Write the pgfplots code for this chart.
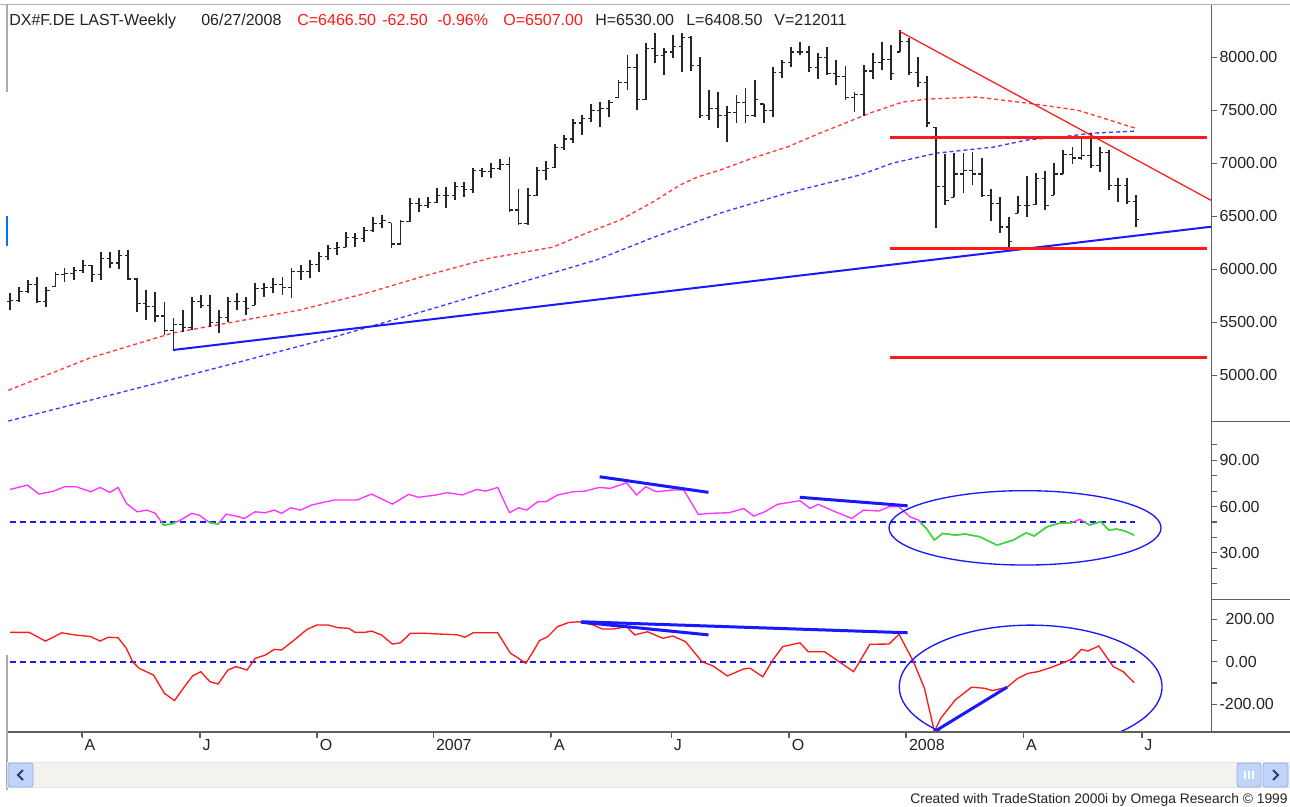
\documentclass[border=0pt]{standalone}
\usepackage{pgfplots}
\pgfplotsset{compat=1.18}
\usepackage{pgfplotstable}
\usepackage{fontspec}
\setmainfont{Liberation Sans}

\definecolor{mag}{RGB}{255,50,255}
\definecolor{lime}{RGB}{40,230,40}
\definecolor{tsred}{RGB}{255,25,25}
\definecolor{tsblue}{RGB}{25,25,255}
\definecolor{axgray}{RGB}{95,95,95}
\definecolor{txt}{RGB}{35,35,35}
\definecolor{scrollbg}{RGB}{243,242,236}
\definecolor{btnblue}{RGB}{192,212,250}
\definecolor{btnedge}{RGB}{150,175,230}
\definecolor{btndark}{RGB}{40,60,120}

\newcommand{\tfont}{\fontsize{9.6pt}{11pt}\selectfont}

\pgfdeclareplotmark{otick}{%
  \pgfpathmoveto{\pgfqpoint{-\pgfplotmarksize}{0pt}}%
  \pgfpathlineto{\pgfqpoint{0pt}{0pt}}%
  \pgfusepathqstroke}
\pgfdeclareplotmark{ctick}{%
  \pgfpathmoveto{\pgfqpoint{0pt}{0pt}}%
  \pgfpathlineto{\pgfqpoint{\pgfplotmarksize}{0pt}}%
  \pgfusepathqstroke}

\pgfplotsset{
  panel/.style={
    scale only axis, width=722.22pt,
    xmin=-99.23, xmax=33.34,
    axis y line*=right,
    axis line style={draw=none},
    tick align=outside,
    major tick length=3.3pt, minor tick length=3.3pt,
    tick style={axgray, line width=0.7pt},
    yticklabel style={font=\tfont, text=txt, anchor=west, inner sep=0pt, xshift=1.2pt},
  },
}

\pgfplotstableread{
t H L O C
-99 5780 5620 5700 5710
-98 5830 5690 5710 5790
-97 5900 5780 5790 5860
-96 5930 5680 5860 5700
-95 5830 5650 5700 5800
-94 5980 5830 5840 5950
-93 6010 5880 5950 5960
-92 6020 5900 5960 5990
-91 6090 5970 5990 6040
-90 6040 5880 6040 5950
-89 6160 5900 5950 6100
-88 6160 6010 6100 6060
-87 6180 6000 6060 6130
-86 6180 5900 6130 5910
-85 5920 5600 5910 5680
-84 5810 5520 5680 5650
-83 5790 5500 5650 5560
-82 5690 5380 5560 5420
-81 5540 5240 5420 5480
-80 5620 5410 5480 5450
-79 5740 5430 5450 5700
-78 5760 5640 5700 5660
-77 5760 5460 5660 5500
-76 5620 5400 5500 5550
-75 5740 5500 5550 5700
-74 5780 5620 5700 5700
-73 5740 5570 5700 5630
-72 5870 5660 5660 5820
-71 5870 5740 5820 5830
-70 5920 5780 5830 5860
-69 5930 5760 5860 5830
-68 6010 5730 5830 5980
-67 6040 5900 5980 5980
-66 6090 5920 5980 6050
-65 6160 5980 6050 6120
-64 6230 6090 6120 6200
-63 6260 6140 6200 6210
-62 6350 6210 6210 6300
-61 6340 6210 6300 6290
-60 6400 6260 6290 6370
-59 6490 6350 6370 6430
-58 6510 6390 6430 6460
-57 6440 6200 6440 6240
-56 6470 6230 6240 6450
-55 6670 6450 6450 6620
-54 6670 6540 6620 6600
-53 6680 6580 6600 6630
-52 6770 6630 6630 6700
-51 6780 6580 6700 6700
-50 6820 6650 6700 6780
-49 6820 6680 6780 6750
-48 6960 6720 6750 6930
-47 6960 6870 6930 6920
-46 7000 6860 6920 6950
-45 7040 6940 6950 6990
-44 7060 6540 6990 6560
-43 6760 6420 6560 6430
-42 6770 6420 6430 6700
-41 6970 6690 6700 6930
-40 7020 6840 6930 6950
-39 7180 6960 6960 7150
-38 7270 7130 7150 7230
-37 7420 7190 7230 7380
-36 7460 7270 7380 7420
-35 7560 7390 7420 7500
-34 7580 7340 7500 7520
-33 7600 7440 7520 7570
-32 7790 7620 7620 7760
-31 8020 7690 7760 7900
-30 8030 7500 7900 7600
-29 8130 7600 7600 8080
-28 8230 7950 8080 8020
-27 8090 7830 8020 8050
-26 8210 7990 8050 8100
-25 8230 7860 8100 8190
-24 8200 7870 8190 7920
-23 8000 7430 7920 7450
-22 7690 7410 7450 7520
-21 7670 7330 7520 7450
-20 7540 7200 7450 7480
-19 7640 7380 7480 7570
-18 7710 7380 7570 7450
-17 7790 7440 7450 7600
-16 7560 7380 7560 7500
-15 7910 7440 7500 7860
-14 7970 7800 7860 7950
-13 8100 7910 7950 8050
-12 8140 8020 8050 8050
-11 8110 7860 8050 7900
-10 8040 7800 7900 8000
-9 8100 7830 8000 7850
-8 7970 7740 7850 7820
-7 7920 7600 7820 7620
-6 7670 7480 7620 7650
-5 7930 7450 7650 7870
-4 8040 7800 7870 7950
-3 8140 7880 7950 7980
-2 8120 7790 7980 7850
-1 8260 8050 8050 8150
0 8180 7830 8150 7860
1 8000 7720 7860 7760
2 7820 7340 7760 7380
3 7340 6390 7340 6780
4 7090 6610 6780 6650
5 7100 6680 6680 6900
6 7100 6720 6900 6930
7 7110 6800 6930 6900
8 7050 6680 6900 6700
9 6760 6460 6700 6620
10 6680 6340 6620 6400
11 6490 6200 6400 6260
12 6690 6530 6530 6600
13 6880 6490 6600 6600
14 6910 6610 6610 6860
15 6930 6560 6860 6600
16 7000 6700 6700 6900
17 7130 6900 6900 7080
18 7150 6990 7080 7050
19 7240 7030 7050 7070
20 7290 6960 7070 6980
21 7150 6920 6980 7100
22 7130 6750 7100 6790
23 6860 6640 6790 6790
24 6860 6620 6790 6640
25 6700 6400 6640 6470
}\bars

\pgfplotstableread{
t v
-99.0 71.1
-97.1 73.9
-95.8 68.1
-94.2 70
-93.0 72.8
-91.7 72.8
-90.1 69.6
-89.1 72.4
-88.0 69.2
-87.1 72.4
-86.2 62.1
-85.0 56.6
-83.9 57.7
-83.0 55.6
-82.1 48
-81.2 48.7
-80.2 51.3
-79.0 55.6
-78.2 54.5
-77.0 49.5
-76.1 48.7
-75.2 55.1
-74.1 53.8
-73.2 52.3
-72.0 56.6
-70.9 56
-69.9 57.7
-69.1 55.6
-68.1 59.2
-67.0 57.7
-65.8 61
-64.5 62.7
-63.3 64.2
-60.8 64.2
-59.2 68.1
-56.9 61.6
-55.1 67.9
-54.0 66
-52.1 67.5
-50.8 69
-49.2 67.5
-47.6 71.1
-46.6 70
-45.3 72.4
-44.0 56
-43.0 59.2
-42.1 57.7
-40.9 63.1
-40.0 63.1
-38.7 67.5
-37.0 69.6
-35.7 70
-34.1 72.4
-32.9 71.8
-31.1 75.4
-30.0 67.5
-29.0 72.8
-27.8 69.6
-26.0 70.7
-24.8 70.7
-23.2 54.9
-21.9 55.6
-19.8 56
-18.2 58.8
-17.1 53.8
-15.9 56.6
-14.5 61.4
-12.0 63.8
-10.9 58.8
-10.0 61.4
-8.1 56.6
-6.3 52.3
-5.0 57.7
-3.3 57.1
-2.2 59.9
-1.1 59.9
0.1 53.4
1.0 51.3
1.9 45.9
2.8 38.3
3.7 42.6
5.1 41.5
6.2 42.2
7.8 40.4
9.7 35
11.5 38.3
12.9 43
13.8 40.9
15.2 46.9
16.5 49.1
17.9 49.5
18.8 51.7
19.9 48
21.1 50.2
22.0 44.8
22.9 45.4
23.8 44.1
24.8 41.5
}\rsi

\pgfplotstableread{
t v
-99.0 138
-96.9 138
-95.1 97
-93.3 136
-91.9 126
-90.1 118
-89.1 97
-88.2 115
-87.1 113
-86.2 63
-85.5 0
-84.8 -31
-83.2 -63
-82.0 -149
-80.9 -183
-79.8 -118
-78.9 -67
-78.0 -47
-77.0 -94
-76.1 -105
-75.0 -39
-74.1 -23
-72.9 -39
-72.0 16
-70.9 31
-69.9 58
-69.1 55
-67.7 102
-66.3 152
-65.2 173
-64.0 173
-62.9 160
-61.7 157
-61.0 138
-59.9 138
-59.2 144
-58.1 126
-56.9 83
-56.0 89
-54.9 134
-53.5 134
-51.7 130
-49.8 127
-48.9 115
-48.0 136
-46.6 136
-45.3 136
-43.9 40
-43.0 16
-42.2 -8
-41.4 47
-40.7 99
-39.8 118
-38.7 165
-37.5 184
-36.4 188
-34.8 173
-33.8 154
-32.5 154
-31.1 165
-30.2 126
-28.8 141
-27.1 110
-26.0 121
-24.6 94
-22.8 0
-21.6 -20
-20.0 -67
-18.2 -34
-17.5 -31
-16.1 -71
-15.0 8
-13.9 71
-12.0 89
-11.1 47
-9.3 47
-7.7 0
-6.1 -47
-4.3 82
-2.2 83
-1.1 129
0.5 0
1.7 -125
2.8 -329
3.5 -266
5.1 -180
6.9 -120
8.3 -125
9.2 -136
10.8 -120
12.0 -78
13.1 -55
14.2 -47
15.6 -28
16.8 -8
17.9 11
19.0 58
19.7 50
20.9 74
22.5 -23
23.6 -47
24.8 -99
}\cci

\begin{document}
\begin{tikzpicture}
\useasboundingbox (0,0) rectangle (774pt,484.2pt);
\fill[white] (0,0) rectangle (774pt,484.2pt);

% ---------------- price panel ----------------
\begin{axis}[panel, axis x line=none, xtick=\empty,
  at={(4.8pt,231.18pt)}, anchor=south west, height=250.02pt,
  ymin=4564, ymax=8493,
  ytick={5000,5500,6000,6500,7000,7500,8000},
  yticklabels={5000.00,5500.00,6000.00,6500.00,7000.00,7500.00,8000.00}]
\addplot[tsred!85, line width=0.8pt, dash pattern=on 2.4pt off 1.8pt] coordinates {
(-99.2,4860) (-90.2,5165) (-81.1,5400) (-74.4,5504) (-67.1,5617) (-59.7,5777)
(-53.0,5947) (-46.1,6107) (-39.2,6210) (-35.5,6343) (-31.8,6466) (-28.2,6636)
(-25.2,6796) (-23.3,6871) (-20.8,6937) (-17.2,7050) (-13.4,7154) (-9.8,7285)
(-6.2,7408) (-4.3,7474) (-0.7,7578) (2.0,7606) (7.5,7625) (13.0,7568)
(18.5,7503) (22.1,7408) (24.9,7332)};
\addplot[tsblue!85, line width=0.8pt, dash pattern=on 2.4pt off 1.8pt] coordinates {
(-99.2,4570) (-89.1,4790) (-78.1,5030) (-72.9,5146) (-63.4,5360) (-53.0,5617)
(-34.4,6090) (-28.2,6300) (-20.8,6531) (-13.4,6720) (-5.4,6890) (-1.8,7002)
(3.1,7097) (9.3,7153) (13.0,7220) (16.6,7248) (20.3,7285) (24.9,7304)};
\addplot[draw=none, mark=none,
  error bars/.cd, y dir=both, y explicit, error mark=none,
  error bar style={draw=black!85, line width=1.1pt, solid}]
  table[x=t, y expr={(\thisrow{H}+\thisrow{L})/2}, y error expr={(\thisrow{H}-\thisrow{L})/2}] {\bars};
\addplot[black!85, only marks, mark=otick, mark size=2pt, mark options={line width=0.7pt}] table[x=t,y=O] {\bars};
\addplot[black!85, only marks, mark=ctick, mark size=2pt, mark options={line width=0.7pt}] table[x=t,y=C] {\bars};
\addplot[tsblue, line width=1.2pt] coordinates {(-81.06,5240) (33.34,6403)};
\addplot[tsred, line width=0.75pt] coordinates {(-1.1,8248) (33.34,6648)};
\addplot[tsred, line width=1.8pt] coordinates {(-2.1,7247) (32.8,7247)};
\addplot[tsred, line width=1.8pt] coordinates {(-2.1,6199) (32.8,6199)};
\addplot[tsred, line width=1.8pt] coordinates {(-2.1,5167) (32.8,5167)};
\end{axis}

% ---------------- RSI panel ----------------
\begin{axis}[panel, axis x line=none, xtick=\empty,
  at={(4.8pt,124.62pt)}, anchor=south west, height=106.56pt,
  ymin=-0.1, ymax=115, ytick={30,60,90}, yticklabels={30.00,60.00,90.00},
  minor ytick={10,20,40,50,70,80,100}]
\addplot[tsblue, line width=1.05pt, dash pattern=on 3.6pt off 2.4pt] coordinates {(-99,50) (24.9,50)};
\addplot[mag, line width=0.8pt] table[x=t,y=v] {\rsi};
\addplot[lime, line width=0.9pt] coordinates {(-82.3,50) (-82.1,48) (-81.2,48.7) (-80.7,50)};
\addplot[lime, line width=0.9pt] coordinates {(-77.1,50) (-77.0,49.5) (-76.1,48.7) (-75.9,50)};
\addplot[lime, line width=0.9pt] coordinates {(1.2,50) (1.9,45.9) (2.8,38.3) (3.7,42.6) (5.1,41.5) (6.2,42.2) (7.8,40.4) (9.7,35) (11.5,38.3) (12.9,43) (13.8,40.9) (15.2,46.9) (16.5,49.1) (17.9,49.5) (18.1,50)};
\addplot[lime, line width=0.9pt] coordinates {(19.3,50) (19.9,48) (21.1,50.2) (22.0,44.8) (22.9,45.4) (23.8,44.1) (24.8,41.5)};
\addplot[tsblue, line width=1.8pt] coordinates {(-34.07,79.3) (-22.08,69.2)};
\addplot[tsblue, line width=1.8pt] coordinates {(-12.03,66) (-0.15,60.5)};
\draw[tsblue, line width=0.8pt] (axis cs:12.78,46.2) ellipse [x radius=14.98, y radius=24.1];
\end{axis}

% ---------------- CCI panel ----------------
\begin{axis}[panel, axis x line*=bottom,
  at={(4.8pt,45.18pt)}, anchor=south west, height=79.44pt,
  ymin=-329.4, ymax=293.6, ytick={-200,0,200},
  yticklabels={-200.00,\hspace{3.6pt}0.00,\hspace{3.6pt}200.00},
  minor ytick={-100,100},
  xtick={-91.1,-78.1,-65.2,-52.4,-39.4,-26.2,-13.2,-0.3,12.6,25.6},
  xticklabels={A,J,O,2007,A,J,O,2008,A,J},
  xticklabel style={font=\tfont, text=txt, anchor=north west, inner sep=0pt, xshift=1.5pt, yshift=-1pt}]
\addplot[tsblue, line width=1.2pt, dash pattern=on 3.6pt off 2.4pt] coordinates {(-99,0) (24.9,0)};
\addplot[tsred, line width=0.8pt] table[x=t,y=v] {\cci};
\addplot[tsblue, line width=1.8pt] coordinates {(-36.12,188) (-0.15,136)};
\addplot[tsblue, line width=1.8pt] coordinates {(-36.12,186) (-22.08,126)};
\addplot[tsblue, line width=1.8pt] coordinates {(2.8,-329) (10.8,-120)};
\draw[tsblue, line width=0.8pt] (axis cs:13.4,-118) ellipse [x radius=14.47, y radius=290];
\end{axis}

% ---------------- frame, header, scrollbar, footer (pixel coords) ----------------
\begin{scope}[x=0.6pt, y=-0.6pt, yshift=484.2pt]
\draw[gray!60, line width=0.9pt] (0,4.5) -- (1290,4.5);
\draw[axgray, line width=0.9pt] (1211.7,5) -- (1211.7,732);
\draw[axgray, line width=0.9pt] (1211.7,421.7) -- (1290,421.7);
\draw[axgray, line width=0.9pt] (1211.7,599.3) -- (1290,599.3);
\draw[axgray, line width=0.9pt] (7,732) -- (1290,732);
\foreach \tx in {82.3,200,317,433.3,550.6,671.7,789,906,1023.5,1142} {\draw[axgray, line width=0.8pt] (\tx,732) -- (\tx,738);}
\draw[gray!65, line width=1.5pt] (7,5) -- (7,92);
\draw[blue!55!cyan, line width=1.5pt] (7,216) -- (7,246);
\draw[gray!65, line width=0.9pt] (7,655) -- (7,790);
% scrollbar
\fill[scrollbg] (7,762) rectangle (1290,787);
\draw[gray!20, line width=0.6pt] (7,762) -- (1290,762);
\draw[gray!20, line width=0.6pt] (7,787) -- (1290,787);
\draw[btnedge, fill=btnblue, rounded corners=1.5pt, line width=0.5pt] (8,763) rectangle (33,787);
\draw[btndark, line width=1.1pt] (23,770) -- (18,775) -- (23,780);
\draw[btnedge, fill=btnblue, rounded corners=1.5pt, line width=0.5pt] (1237,763) rectangle (1261,787);
\foreach \gx in {1245,1249,1253} {\draw[white, line width=0.7pt] (\gx,771) -- (\gx,779);}
\draw[btnedge, fill=btnblue, rounded corners=1.5pt, line width=0.5pt] (1263,763) rectangle (1288,787);
\draw[btndark, line width=1.1pt] (1273,770) -- (1278,775) -- (1273,780);
% header
\node[anchor=base west, inner sep=0pt, font=\tfont, text=txt] at (9,26) {DX\#F.DE LAST-Weekly};
\node[anchor=base west, inner sep=0pt, font=\tfont, text=txt] at (201,26) {06/27/2008};
\node[anchor=base west, inner sep=0pt, font=\tfont, text=tsred] at (297,26) {C=6466.50};
\node[anchor=base west, inner sep=0pt, font=\tfont, text=tsred] at (382,26) {-62.50};
\node[anchor=base west, inner sep=0pt, font=\tfont, text=tsred] at (437,26) {-0.96\%};
\node[anchor=base west, inner sep=0pt, font=\tfont, text=tsred] at (503,26) {O=6507.00};
\node[anchor=base west, inner sep=0pt, font=\tfont, text=txt] at (595,26) {H=6530.00};
\node[anchor=base west, inner sep=0pt, font=\tfont, text=txt] at (686,26) {L=6408.50};
\node[anchor=base west, inner sep=0pt, font=\tfont, text=txt] at (774,26) {V=212011};
% footer
\node[anchor=base east, inner sep=0pt, font=\fontsize{8.3pt}{9pt}\selectfont, text=txt] at (1288,803) {Created with TradeStation 2000i by Omega Research \textcopyright{} 1999};
\end{scope}
\end{tikzpicture}
\end{document}
